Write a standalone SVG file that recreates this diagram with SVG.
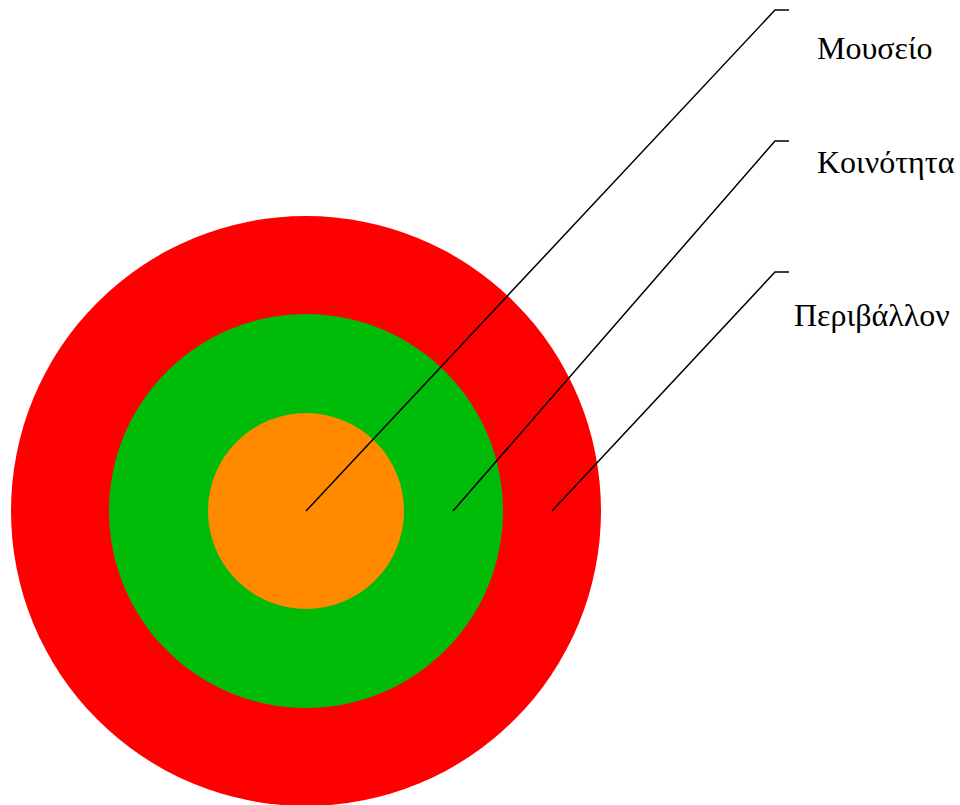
<svg xmlns="http://www.w3.org/2000/svg" width="960" height="805" viewBox="0 0 960 805">
<style>
.lbl{font-family:serif;font-size:32px;fill:#000}
.ln{fill:none;stroke:#000;stroke-width:1.5}
</style>
<rect width="960" height="805" fill="#fff"/>
<g id="perivallon"><circle cx="306" cy="511" r="295" fill="#ff0000"/></g>
<g id="koinotita"><circle cx="306" cy="511" r="197" fill="#00bb08"/></g>
<g id="mouseio"><circle cx="306" cy="511" r="98" fill="#ff8a00"/></g>
<g id="connectors">
<polyline class="ln" points="306,511 775,10 789,10"/>
<polyline class="ln" points="453,511 775,141 789,141"/>
<polyline class="ln" points="552,511 775,272 789,272"/>
</g>
<g id="labels">
<text class="lbl" x="817" y="59">Μουσείο</text>
<text class="lbl" x="817" y="173">Κοινότητα</text>
<text class="lbl" x="794" y="326">Περιβάλλον</text>
</g>
</svg>
